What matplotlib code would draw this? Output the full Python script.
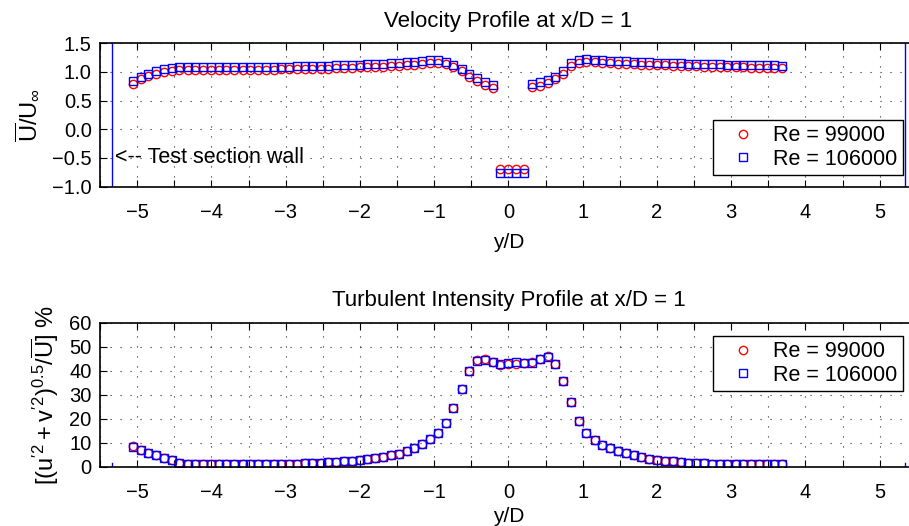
import numpy as np
import matplotlib
matplotlib.use("Agg")
import matplotlib.pyplot as plt
from matplotlib.ticker import FixedLocator, FuncFormatter

plt.rcParams['font.family'] = ['Liberation Sans', 'DejaVu Sans']
plt.rcParams['mathtext.fontset'] = 'custom'
plt.rcParams['mathtext.rm'] = 'Liberation Sans'
plt.rcParams['mathtext.it'] = 'Liberation Sans:italic'
plt.rcParams['mathtext.bf'] = 'Liberation Sans:bold'

# ---------------- data ----------------
y_over_D = [-5.06, -4.95, -4.85, -4.74, -4.64, -4.53, -4.43, -4.32, -4.22, -4.11,
            -4.01, -3.90, -3.80, -3.69, -3.58, -3.48, -3.37, -3.27, -3.16, -3.06,
            -2.95, -2.85, -2.74, -2.64, -2.53, -2.43, -2.32, -2.21, -2.11, -2.00,
            -1.90, -1.79, -1.69, -1.58, -1.48, -1.37, -1.27, -1.16, -1.05, -0.95,
            -0.84, -0.74, -0.63, -0.53, -0.42, -0.32, -0.21, -0.11, 0.00, 0.10,
            0.21, 0.32, 0.42, 0.53, 0.63, 0.74, 0.84, 0.95, 1.05, 1.16,
            1.26, 1.37, 1.47, 1.58, 1.69, 1.79, 1.90, 2.00, 2.11, 2.21,
            2.32, 2.42, 2.53, 2.63, 2.74, 2.85, 2.95, 3.06, 3.16, 3.27,
            3.37, 3.48, 3.58, 3.69]

U_re99000 = [0.79, 0.87, 0.93, 0.97, 1.00, 1.02, 1.03, 1.03, 1.03, 1.03,
             1.03, 1.03, 1.035, 1.035, 1.035, 1.04, 1.04, 1.04, 1.04, 1.045,
             1.045, 1.05, 1.05, 1.05, 1.055, 1.06, 1.065, 1.07, 1.075, 1.08,
             1.085, 1.09, 1.095, 1.10, 1.11, 1.12, 1.13, 1.14, 1.15, 1.15,
             1.14, 1.08, 1.01, 0.92, 0.84, 0.78, 0.72, -0.70, -0.70, -0.70,
             -0.70, 0.73, 0.76, 0.80, 0.87, 0.97, 1.10, 1.16, 1.18, 1.17,
             1.16, 1.15, 1.145, 1.14, 1.135, 1.13, 1.125, 1.12, 1.115, 1.11,
             1.105, 1.10, 1.10, 1.095, 1.09, 1.09, 1.085, 1.08, 1.08, 1.075,
             1.075, 1.07, 1.07, 1.065]

U_re106000 = [0.84, 0.91, 0.97, 1.01, 1.05, 1.07, 1.08, 1.08, 1.08, 1.08,
              1.08, 1.08, 1.085, 1.085, 1.085, 1.09, 1.09, 1.09, 1.09, 1.095,
              1.095, 1.10, 1.10, 1.10, 1.105, 1.11, 1.115, 1.12, 1.125, 1.13,
              1.135, 1.14, 1.145, 1.15, 1.16, 1.17, 1.18, 1.19, 1.20, 1.20,
              1.18, 1.13, 1.05, 0.96, 0.89, 0.82, 0.77, -0.765, -0.765, -0.765,
              -0.765, 0.785, 0.82, 0.86, 0.92, 1.01, 1.16, 1.21, 1.22, 1.21,
              1.20, 1.19, 1.19, 1.185, 1.18, 1.175, 1.17, 1.165, 1.16, 1.155,
              1.15, 1.145, 1.145, 1.14, 1.135, 1.135, 1.13, 1.125, 1.125, 1.12,
              1.12, 1.115, 1.115, 1.11]

TI_re99000 = [8.5, 7.1, 5.9, 4.9, 3.8, 2.6, 1.7, 1.2, 1.1, 1.1,
              1.1, 1.1, 1.1, 1.1, 1.1, 1.1, 1.1, 1.1, 1.1, 1.1,
              1.2, 1.3, 1.4, 1.6, 1.7, 1.8, 2.0, 2.2, 2.4, 2.7,
              3.2, 3.7, 4.2, 4.8, 5.5, 6.6, 7.9, 9.3, 11.4, 13.9,
              18.1, 24.3, 32.2, 39.9, 44.5, 45.0, 43.8, 42.5, 42.6, 43.0,
              43.3, 43.5, 45.0, 46.0, 42.8, 35.8, 26.8, 19.2, 14.2, 11.1,
              9.2, 7.8, 6.5, 5.6, 4.7, 3.9, 3.4, 2.8, 2.5, 2.2,
              1.9, 1.7, 1.5, 1.4, 1.3, 1.2, 1.15, 1.1, 1.1, 1.05,
              1.05, 1.0, 1.0, 1.0]

TI_re106000 = [8.3, 7.0, 5.9, 4.9, 3.8, 2.6, 1.7, 1.1, 1.1, 1.1,
               1.1, 1.1, 1.1, 1.1, 1.1, 1.1, 1.1, 1.1, 1.1, 1.1,
               1.2, 1.3, 1.4, 1.6, 1.7, 1.8, 2.0, 2.2, 2.4, 2.7,
               3.2, 3.7, 4.2, 4.8, 5.5, 6.6, 7.9, 9.3, 11.4, 13.9,
               18.1, 24.3, 32.2, 39.9, 44.0, 44.4, 43.6, 42.8, 43.1, 43.8,
               43.4, 43.4, 44.9, 45.6, 42.8, 35.8, 26.8, 19.2, 14.2, 11.1,
               9.2, 7.8, 6.5, 5.6, 4.7, 3.9, 3.4, 2.8, 2.5, 2.2,
               1.9, 1.7, 1.5, 1.4, 1.3, 1.2, 1.15, 1.1, 1.1, 1.05,
               1.05, 1.0, 1.0, 1.0]

wall_positions = [-5.34, 5.34]
wall_span = [-1.0, 1.5]
labels = ['Re = 99000', 'Re = 106000']

x_ticks = [-5.5, -5.0, -4.5, -4.0, -3.5, -3.0, -2.5, -2.0, -1.5, -1.0, -0.5, 0.0,
           0.5, 1.0, 1.5, 2.0, 2.5, 3.0, 3.5, 4.0, 4.5, 5.0, 5.5]
u_ticks = [-1.0, -0.5, 0.0, 0.5, 1.0, 1.5]
ti_ticks = [0, 10, 20, 30, 40, 50, 60]

FS_TICK = 14.5
FS_LEG = 15.5
FS_TITLE = 16
FS_XLAB = 15
FS_YLAB = 17

fig = plt.figure(figsize=(9.09, 5.26), dpi=100)
ax1 = fig.add_axes([0.1100, 0.6451, 0.8986, 0.2726])
ax2 = fig.add_axes([0.1100, 0.1127, 0.8986, 0.2738])

def xfmt(v, pos):
    if abs(v - round(v)) < 1e-9:
        return '\u2212%d' % abs(round(v)) if v < 0 else '%d' % round(v)
    return ''

def style(ax, yticks, yfmt, xlabelpad):
    ax.set_xlim(-5.5, 5.5)
    ax.xaxis.set_major_locator(FixedLocator(x_ticks))
    ax.xaxis.set_major_formatter(FuncFormatter(xfmt))
    ax.yaxis.set_major_locator(FixedLocator(yticks))
    ax.yaxis.set_major_formatter(FuncFormatter(yfmt))
    ax.tick_params(direction='in', length=5, width=0.8, labelsize=FS_TICK,
                   top=True, right=True)
    ax.tick_params(axis='x', pad=12)
    ax.tick_params(axis='y', pad=6)
    ax.grid(True, color='0.15', linestyle=(0, (1, 8)), linewidth=0.8)
    for s in ax.spines.values():
        s.set_linewidth(1.2)
    ax.set_xlabel('y/D', fontsize=FS_XLAB, labelpad=xlabelpad)

def ufmt(v, pos):
    s = '%.1f' % abs(v)
    return ('\u2212' + s) if v < -1e-9 else s

def tifmt(v, pos):
    return '%d' % v

leg_kw = dict(fontsize=FS_LEG, frameon=True, fancybox=False, edgecolor='k',
              framealpha=1, borderaxespad=0, handlelength=2.3, handletextpad=0.25,
              borderpad=0.25, labelspacing=0.12)

# ---------- top ----------
ax1.plot(y_over_D, U_re99000, 'o', color='r', mfc='none', ms=6, mew=1.0, label=labels[0])
ax1.plot(y_over_D, U_re106000, 's', color='b', mfc='none', ms=6, mew=1.0, label=labels[1])
for xw in wall_positions:
    ax1.plot([xw, xw], wall_span, color='b', lw=1.0)
ax1.set_ylim(-1.0, 1.5)
style(ax1, u_ticks, ufmt, 8)
ax1.set_ylabel(r'$\overline{\mathrm{U}}/\mathrm{U}_{\infty}$', fontsize=FS_YLAB, labelpad=8)
ax1.set_title('Velocity Profile at x/D = 1', fontsize=FS_TITLE, pad=12)
ax1.text(-5.3, -0.5, '<-- Test section wall', fontsize=15.5, va='center', ha='left')
leg1 = ax1.legend(loc='upper right', bbox_to_anchor=(0.983, 0.465), **leg_kw)
leg1.get_frame().set_linewidth(1.0)

# ---------- bottom ----------
ax2.plot(y_over_D, TI_re99000, 'o', color='r', mfc='none', ms=6, mew=1.0, label=labels[0])
ax2.plot(y_over_D, TI_re106000, 's', color='b', mfc='none', ms=6, mew=1.0, label=labels[1])
for xw in wall_positions:
    ax2.plot([xw, xw], wall_span, color='b', lw=1.0)
ax2.set_ylim(0, 60)
style(ax2, ti_ticks, tifmt, 3)
ax2.set_ylabel(r"$[(\mathrm{u}'^{2} + \mathrm{v}'^{2})^{0.5}/\overline{\mathrm{U}}]$ %",
               fontsize=FS_YLAB, labelpad=6)
ax2.set_title('Turbulent Intensity Profile at x/D = 1', fontsize=FS_TITLE, pad=12)
leg2 = ax2.legend(loc='upper right', bbox_to_anchor=(0.983, 0.908), **leg_kw)
leg2.get_frame().set_linewidth(1.0)

fig.savefig('out.png', dpi=100)
